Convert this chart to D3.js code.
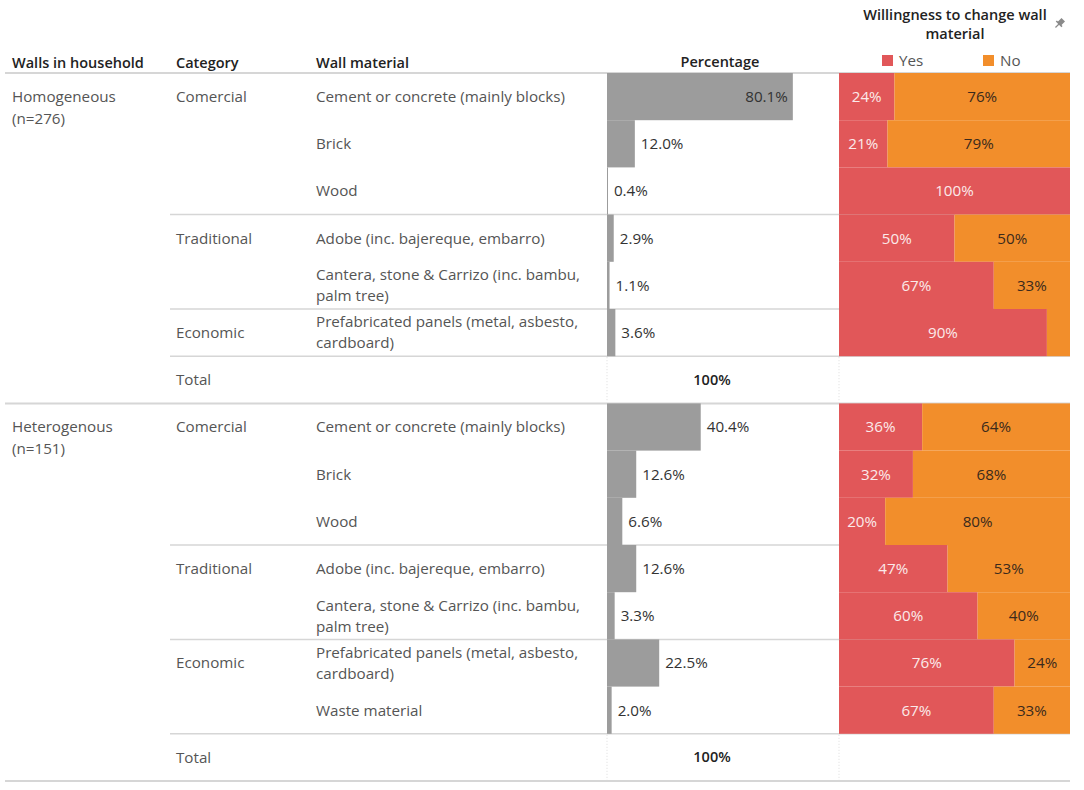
<!DOCTYPE html>
<html>
<head>
<meta charset="utf-8">
<script src="https://cdn.jsdelivr.net/npm/d3@7"></script>
<style>
  body { margin: 0; background: #fff; }
  svg text { font-family: "Open Sans", Lato, sans-serif; }
</style>
</head>
<body>
<svg width="1084" height="790"></svg>
<script>
var groups = ["Homogeneous (n=276)", "Heterogenous (n=151)"];
var materials = ["Cement or concrete (mainly blocks)", "Brick", "Wood",
  "Adobe (inc. bajereque, embarro)", "Cantera, stone & Carrizo (inc. bambu, palm tree)",
  "Prefabricated panels (metal, asbesto, cardboard)", "Waste material"];
var categories = ["Comercial", "Comercial", "Comercial", "Traditional", "Traditional", "Economic", "Economic"];

// share of walls (%) and share answering "Yes" (%), null = no household
var homoPct = [80.1, 12.0, 0.4, 2.9, 1.1, 3.6, null];
var homoYes = [24, 21, 100, 50, 67, 90, null];
var heteroPct = [40.4, 12.6, 6.6, 12.6, 3.3, 22.5, 2.0];
var heteroYes = [36, 32, 20, 47, 60, 76, 67];

var answers = ["Yes", "No"];
var colors = ["#e15759", "#f28e2b"];

var svg = d3.select("svg");
var textCol = "#555", headCol = "#222", lineCol = "#d6d6d6";
var fs = 15.2, hfs = 14.5;

// build the rows
var rows = [];
[[homoPct, homoYes], [heteroPct, heteroYes]].forEach(function(s, gi) {
  var first = true, lastCat = null;
  materials.forEach(function(m, i) {
    if (s[0][i] == null) return;
    rows.push({group: gi, groupStart: first, cat: categories[i], catStart: categories[i] !== lastCat,
               material: m, pct: s[0][i], yes: s[1][i], total: false});
    first = false; lastCat = categories[i];
  });
  rows.push({group: gi, groupStart: false, cat: "Total", catStart: true, total: true});
});

var y = d3.scaleBand().domain(d3.range(rows.length)).range([73, 781]);
var xPct = d3.scaleLinear().domain([0, 100]).range([607, 839]);
var xWill = d3.scaleLinear().domain([0, 100]).range([839, 1070]);
var colX = {group: 12, cat: 176, material: 316};

function wrap(str, maxW, node) {
  var words = str.split(" "), lines = [], cur = "";
  words.forEach(function(w) {
    var t = cur ? cur + " " + w : w;
    node.text(t);
    if (node.node().getComputedTextLength() > maxW && cur) { lines.push(cur); cur = w; }
    else cur = t;
  });
  lines.push(cur);
  node.text(null);
  return lines;
}

function multiline(g, x, cy, lines) {
  var lh = 21;
  var t = g.append("text").attr("x", x).attr("fill", textCol).attr("font-size", fs);
  var y0 = cy - (lines.length - 1) * lh / 2;
  lines.forEach(function(l, i) {
    t.append("tspan").attr("x", x).attr("y", y0 + i * lh).attr("dy", "0.35em").text(l);
  });
  return t;
}

// header
var head = svg.append("g").attr("fill", headCol).attr("font-size", hfs).attr("font-weight", 600);
[["Walls in household", colX.group], ["Category", colX.cat], ["Wall material", colX.material]].forEach(function(h) {
  head.append("text").attr("x", h[1]).attr("y", 63).attr("dy", "0.35em").text(h[0]);
});
head.append("text").attr("x", 720).attr("y", 62).attr("dy", "0.35em").attr("text-anchor", "middle").text("Percentage");
head.append("text").attr("x", 955).attr("y", 15).attr("dy", "0.35em").attr("text-anchor", "middle").text("Willingness to change wall");
head.append("text").attr("x", 955).attr("y", 34).attr("dy", "0.35em").attr("text-anchor", "middle").text("material");

// pin icon
svg.append("g").attr("transform", "translate(1059,24) rotate(45)").attr("fill", "#8a8a8a")
  .call(function(p) {
    p.append("rect").attr("x", -2.5).attr("y", -6).attr("width", 5).attr("height", 6);
    p.append("rect").attr("x", -4).attr("y", -1).attr("width", 8).attr("height", 1.6);
    p.append("rect").attr("x", -0.6).attr("y", 0).attr("width", 1.2).attr("height", 5);
  });

// legend
var legend = svg.append("g").selectAll("g").data(answers).enter().append("g")
  .attr("transform", function(d, i) { return "translate(" + (882 + i * 101) + ",55)"; });
legend.append("rect").attr("width", 11).attr("height", 11).attr("fill", function(d, i) { return colors[i]; });
legend.append("text").attr("x", 17).attr("y", 6).attr("dy", "0.35em").attr("font-size", fs)
  .attr("fill", textCol).text(function(d) { return d; });

// separators
var lines = svg.append("g").attr("stroke", lineCol).attr("stroke-width", 1.5);
lines.append("line").attr("x1", 5).attr("x2", 1070).attr("y1", 73).attr("y2", 73).attr("stroke-width", 2);
rows.forEach(function(r, i) {
  if (i === 0) return;
  if (r.groupStart) lines.append("line").attr("x1", 5).attr("x2", 1070).attr("y1", y(i)).attr("y2", y(i)).attr("stroke-width", 2);
  else if (r.catStart) lines.append("line").attr("x1", 170).attr("x2", 1070).attr("y1", y(i)).attr("y2", y(i));
});
lines.append("line").attr("x1", 5).attr("x2", 1070).attr("y1", 781).attr("y2", 781).attr("stroke-width", 2);

// text columns
var body = svg.append("g");
var measure = body.append("text").attr("font-size", fs);
rows.forEach(function(r, i) {
  var cy = y(i) + y.bandwidth() / 2;
  if (r.groupStart) {
    var gl = groups[r.group].split(" ");
    multiline(body, colX.group, cy, [gl[0]]);
    multiline(body, colX.group, cy + 22, [gl[1]]);
  }
  if (r.catStart) multiline(body, colX.cat, cy, [r.cat]);
  if (!r.total) multiline(body, colX.material, cy, wrap(r.material, 280, measure));
});
measure.remove();

// percentage bars
var dataRows = rows.map(function(r, i) { r.i = i; return r; }).filter(function(r) { return !r.total; });
var pct = svg.append("g");
pct.selectAll("rect").data(dataRows).enter().append("rect")
  .attr("x", xPct(0)).attr("y", function(d) { return y(d.i); })
  .attr("width", function(d) { return Math.max(1, xPct(d.pct) - xPct(0)); })
  .attr("height", y.bandwidth())
  .attr("fill", "#9c9c9c");
pct.selectAll("text").data(dataRows).enter().append("text")
  .attr("y", function(d) { return y(d.i) + y.bandwidth() / 2; })
  .attr("dy", "0.35em").attr("font-size", fs).attr("fill", "#333")
  .text(function(d) { return d.pct.toFixed(1) + "%"; })
  .each(function(d) {
    var t = d3.select(this), w = this.getComputedTextLength(), end = xPct(d.pct);
    if (end + 6 + w > xPct.range()[1]) t.attr("x", end - 5).attr("text-anchor", "end");
    else t.attr("x", end + 6);
  });

// totals
rows.forEach(function(r, i) {
  if (!r.total) return;
  var cy = y(i) + y.bandwidth() / 2;
  pct.append("text").attr("x", 712).attr("y", cy).attr("dy", "0.35em").attr("text-anchor", "middle")
    .attr("font-size", hfs).attr("font-weight", 600).attr("fill", headCol).text("100%");
  [xPct(0), xWill(0)].forEach(function(x) {
    pct.append("line").attr("x1", x).attr("x2", x).attr("y1", y(i) + 1).attr("y2", y(i) + y.bandwidth() - 1)
      .attr("stroke", "#dcdcdc").attr("stroke-dasharray", "1,2");
  });
});

// willingness stacked bars
var segs = [];
dataRows.forEach(function(d) {
  segs.push({i: d.i, k: 0, x0: 0, x1: d.yes});
  if (d.yes < 100) segs.push({i: d.i, k: 1, x0: d.yes, x1: 100});
});
var will = svg.append("g");
will.selectAll("rect").data(segs).enter().append("rect")
  .attr("x", function(d) { return xWill(d.x0); })
  .attr("y", function(d) { return y(d.i); })
  .attr("width", function(d) { return xWill(d.x1) - xWill(d.x0); })
  .attr("height", y.bandwidth())
  .attr("fill", function(d) { return colors[d.k]; });
will.selectAll("text").data(segs.filter(function(d) { return xWill(d.x1) - xWill(d.x0) > 30; }))
  .enter().append("text")
  .attr("x", function(d) { return (xWill(d.x0) + xWill(d.x1)) / 2; })
  .attr("y", function(d) { return y(d.i) + y.bandwidth() / 2; })
  .attr("dy", "0.35em").attr("text-anchor", "middle").attr("font-size", fs)
  .attr("fill", function(d) { return d.k === 0 ? "#fbeaea" : "#3b2a1c"; })
  .text(function(d) { return Math.round(d.x1 - d.x0) + "%"; });
</script>
</body>
</html>
